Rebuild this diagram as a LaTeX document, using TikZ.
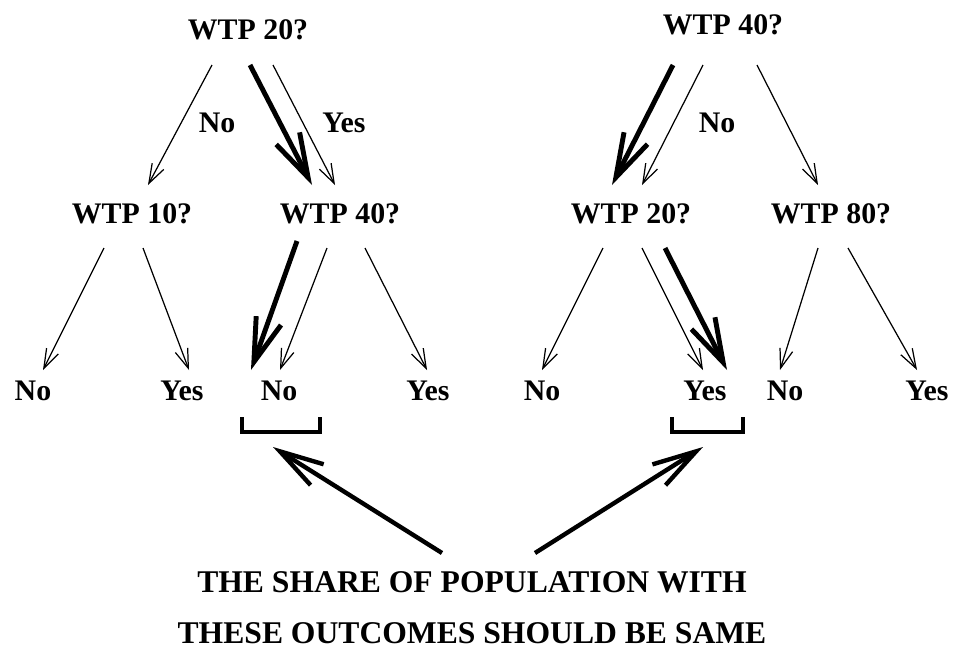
\documentclass[tikz,border=0pt]{standalone}
\usepackage{fontspec}
\setmainfont{Liberation Serif}
\usetikzlibrary{arrows.meta,calc}

\begin{document}
\begin{tikzpicture}[x=0.02cm,y=-0.02cm,
    txt/.style={font=\fontsize{17}{20}\selectfont\bfseries,inner sep=0pt},
    thinarr/.style={-{Straight Barb[length=11pt,width=7.5pt]},line width=0.7pt},
    boldarr/.style={-{Straight Barb[length=25pt,width=15pt]},line width=2.8pt},
    bigarr/.style={-{Straight Barb[length=25pt,width=14pt]},line width=2.5pt},
    brack/.style={line width=2.3pt}]
  \useasboundingbox (0,0) rectangle (953,650);

  % questions
  \node[txt] (t1) at (248,30) {WTP 20?};
  \node[txt] (t2) at (723,25) {WTP 40?};
  \node[txt] (m1) at (132,214) {WTP 10?};
  \node[txt] (m2) at (340,214) {WTP 40?};
  \node[txt] (m3) at (631,214) {WTP 20?};
  \node[txt] (m4) at (831,214) {WTP 80?};

  % answers
  \node[txt] (l1) at (33,391) {No};
  \node[txt] (l2) at (182,391) {Yes};
  \node[txt] (l3) at (279,391) {No};
  \node[txt] (l4) at (428,391) {Yes};
  \node[txt] (l5) at (542,391) {No};
  \node[txt] (l6) at (705,391) {Yes};
  \node[txt] (l7) at (785,391) {No};
  \node[txt] (l8) at (927,391) {Yes};

  \node[txt] (e1) at (217,123) {No};
  \node[txt] (e2) at (344,123) {Yes};
  \node[txt] (e3) at (717,123) {No};

  \node[txt,font=\fontsize{18}{29}\selectfont\bfseries,align=center] (note) at (472,608)
    {THE SHARE OF POPULATION WITH\\THESE OUTCOMES SHOULD BE SAME};

  % first tree
  \draw[thinarr] ($(t1)+(-36,35)$) -- ($(m1)+(16,-29)$);
  \draw[boldarr] ($(t1)+(2,35)$) -- ($(m2)+(-28,-29)$);
  \draw[thinarr] ($(t1)+(25,35)$) -- ($(m2)+(-5,-29)$);
  \draw[thinarr] ($(m1)+(-28,34)$) -- ($(l1)+(10,-21)$);
  \draw[thinarr] ($(m1)+(11,34)$) -- ($(l2)+(7,-21)$);
  \draw[boldarr] ($(m2)+(-43,27)$) -- ($(l3)+(-28,-21)$);
  \draw[thinarr] ($(m2)+(-13,34)$) -- ($(l3)+(1,-21)$);
  \draw[thinarr] ($(m2)+(25,34)$) -- ($(l4)+(-1,-21)$);

  % second tree
  \draw[boldarr] ($(t2)+(-50,40)$) -- ($(m3)+(-19,-29)$);
  \draw[thinarr] ($(t2)+(-20,40)$) -- ($(m3)+(11,-29)$);
  \draw[thinarr] ($(t2)+(34,40)$) -- ($(m4)+(-13,-29)$);
  \draw[thinarr] ($(m3)+(-28,34)$) -- ($(l5)+(0,-21)$);
  \draw[thinarr] ($(m3)+(11,34)$) -- ($(l6)+(-2,-21)$);
  \draw[boldarr] ($(m3)+(34,34)$) -- ($(l6)+(22,-21)$);
  \draw[thinarr] ($(m4)+(-13,34)$) -- ($(l7)+(-5,-21)$);
  \draw[thinarr] ($(m4)+(17,34)$) -- ($(l8)+(-10,-21)$);

  % brackets and pointers
  \draw[brack] ($(l3)+(-37,26)$) |- ($(l3)+(41,41)$) -- ($(l3)+(41,26)$);
  \draw[brack] ($(l6)+(-33,26)$) |- ($(l6)+(38,41)$) -- ($(l6)+(38,26)$);
  \coordinate (p1) at ($(l3)+(-6,56)$);
  \coordinate (p2) at ($(l6)+(-2,56)$);
  \draw[bigarr] ($(note)+(-30,-55)$) -- (p1);
  \draw[bigarr] ($(note)+(63,-55)$) -- (p2);
\end{tikzpicture}
\end{document}
